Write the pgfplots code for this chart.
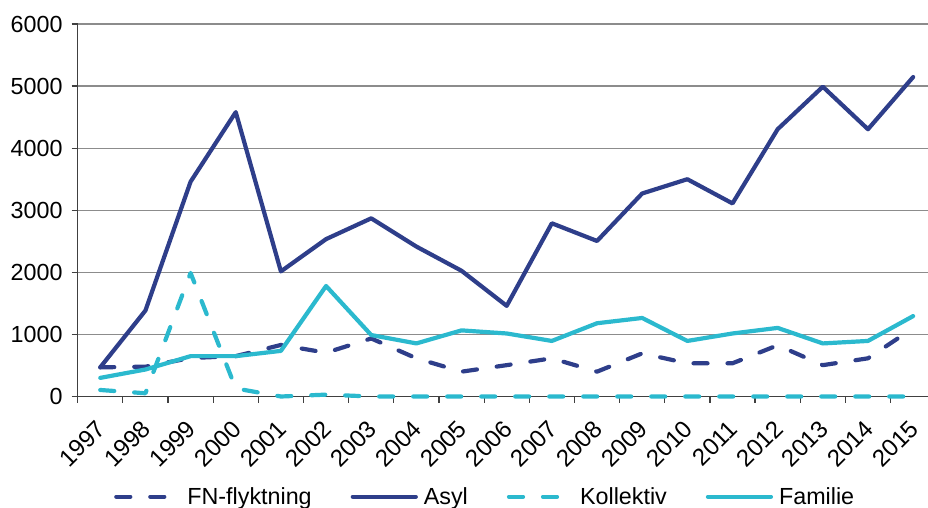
\documentclass[border=0pt]{standalone}
\usepackage{fontspec}
\setmainfont{Liberation Sans}
\usepackage{pgfplots}
\usepackage{pgfplotstable}
\pgfplotsset{compat=1.18}
\definecolor{navy}{RGB}{46,62,138}
\definecolor{tealc}{RGB}{43,185,206}
\definecolor{gridc}{RGB}{140,140,140}
\definecolor{axisc}{RGB}{64,64,64}

\pgfplotstableread{
idx year fn asyl koll fam
0 1997 470 470 105 300
1 1998 480 1385 52 435
2 1999 620 3460 1990 650
3 2000 650 4580 130 650
4 2001 830 2015 0 735
5 2002 705 2535 30 1780
6 2003 935 2870 0 990
7 2004 615 2415 0 855
8 2005 400 2025 0 1065
9 2006 505 1460 0 1015
10 2007 615 2790 0 895
11 2008 400 2505 0 1180
12 2009 695 3270 0 1265
13 2010 535 3500 0 895
14 2011 535 3110 0 1015
15 2012 825 4305 0 1105
16 2013 505 4990 0 855
17 2014 615 4305 0 895
18 2015 1100 5145 0 1295
}\datatable

\newcommand{\chfont}{\fontsize{23.3bp}{28bp}\selectfont}
\newcommand{\xfont}{\fontsize{24bp}{28bp}\selectfont}

\begin{document}
\begin{tikzpicture}
\path[use as bounding box] (-77.7bp,-111.5bp) rectangle (850.3bp,396.5bp);
\begin{axis}[
  at={(0,0)}, anchor=south west,
  scale only axis, width=858bp, height=372.5bp,
  xmin=-0.5, xmax=18.5, ymin=0, ymax=6000,
  clip=false,
  axis x line=bottom, axis y line=left,
  axis line style={-, draw=axisc, line width=1.3bp},
  xtick={-0.5,0.5,...,18.5},
  x tick label as interval,
  xticklabels={1997,1998,1999,2000,2001,2002,2003,2004,2005,2006,2007,2008,2009,2010,2011,2012,2013,2014,2015},
  ytick={0,1000,...,6000},
  tick align=outside,
  major tick length=6bp,
  tick style={draw=axisc, line width=1.2bp},
  ymajorgrids,
  grid style={draw=gridc, line width=1.2bp},
  yticklabel style={font=\chfont, inner sep=0pt, xshift=-9bp},
  xticklabel style={font=\xfont, inner sep=0pt, xshift=-5bp, yshift=-16bp, rotate=45, anchor=north east},
  /pgf/number format/.cd, 1000 sep={}, assume math mode=true, /pgfplots/.cd,
  legend columns=4,
  legend style={at={(rel axis cs:0.0423,-0.269)}, anchor=west, draw=none, fill=none, inner sep=0pt,
    /tikz/every even column/.append style={column sep=33bp},
    nodes={inner xsep=6bp, inner ysep=0pt, font=\chfont}},
  legend image code/.code={\draw[#1, line cap=round] (0bp,0bp) -- (63bp,0bp);},
  every axis plot/.append style={line width=4.2bp, line cap=round, line join=round},
]
\addplot[navy, dash pattern=on 14bp off 20bp] table[x=idx, y=fn] {\datatable};
\addlegendentry{FN-flyktning}
\addplot[navy] table[x=idx, y=asyl] {\datatable};
\addlegendentry{Asyl}
\addplot[tealc, dash pattern=on 14bp off 20bp] table[x=idx, y=koll] {\datatable};
\addlegendentry{Kollektiv}
\addplot[tealc] table[x=idx, y=fam] {\datatable};
\addlegendentry{Familie}
\end{axis}
\end{tikzpicture}
\end{document}
